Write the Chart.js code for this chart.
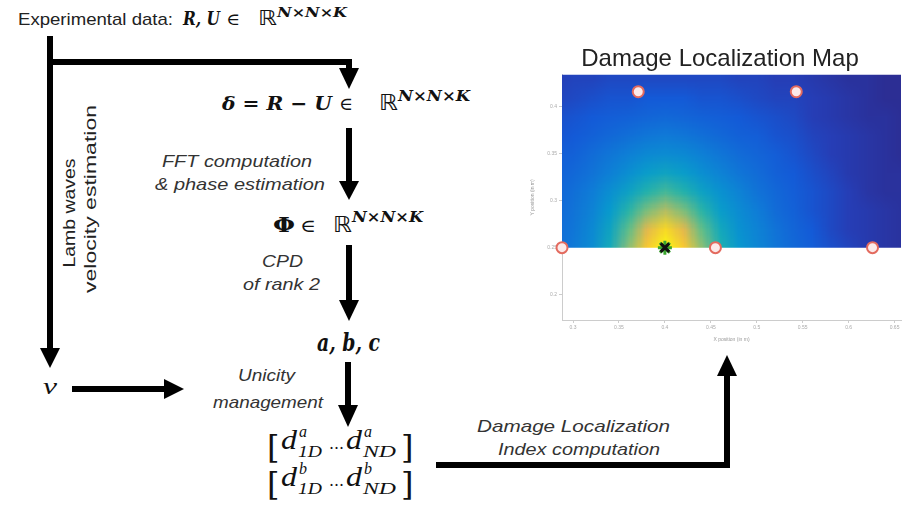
<!DOCTYPE html>
<html>
<head>
<meta charset="utf-8">
<script src="https://cdn.jsdelivr.net/npm/chart.js@4.4.0/dist/chart.umd.min.js"></script>
<style>
body { margin: 0; background: #fff; width: 911px; height: 509px; overflow: hidden; position: relative; }
#flow { position: absolute; left: 0; top: 0; }
#mapbox { position: absolute; left: 530px; top: 40px; width: 381px; height: 303px; }
.lbl { font-family: "Liberation Sans", Arial, sans-serif; font-style: italic; font-size: 17px; fill: #333; }
.plain { font-family: "Liberation Sans", Arial, sans-serif; font-size: 17px; fill: #222; }
.mb { font-family: "DejaVu Serif", serif; font-weight: bold; font-style: italic; fill: #111; }
.mr { font-family: "DejaVu Serif", serif; fill: #111; }
.bb { font-family: "DejaVu Sans", sans-serif; fill: #111; }
.mi { font-family: "Liberation Serif", serif; font-style: italic; fill: #111; }
.sh { stroke: #000; stroke-width: 6; fill: none; }
</style>
</head>
<body>
<svg id="flow" width="911" height="509" xmlns="http://www.w3.org/2000/svg">
  <!-- header -->
  <text class="plain" x="18" y="25" textLength="155" lengthAdjust="spacingAndGlyphs">Experimental data:</text>
  <text class="mb" x="183" y="25" font-size="18" textLength="37" lengthAdjust="spacingAndGlyphs">R, U</text>
  <text class="mr" x="226" y="25" font-size="17" textLength="14" lengthAdjust="spacingAndGlyphs">∈</text>
  <text class="bb" x="258" y="25" font-size="21" textLength="19" lengthAdjust="spacingAndGlyphs">ℝ</text>
  <text class="mb" x="277" y="17" font-size="13" textLength="70" lengthAdjust="spacingAndGlyphs">N×N×K</text>

  <!-- delta -->
  <text class="mb" x="222" y="110" font-size="19" textLength="110" lengthAdjust="spacingAndGlyphs">δ = R − U</text>
  <text class="mr" x="339" y="110" font-size="18" textLength="14" lengthAdjust="spacingAndGlyphs">∈</text>
  <text class="bb" x="379" y="110" font-size="22" textLength="19" lengthAdjust="spacingAndGlyphs">ℝ</text>
  <text class="mb" x="398" y="101" font-size="14" textLength="72" lengthAdjust="spacingAndGlyphs">N×N×K</text>

  <!-- phi -->
  <text class="mr" font-weight="bold" x="273" y="232" font-size="20" textLength="22" lengthAdjust="spacingAndGlyphs">Φ</text>
  <text class="mr" x="300" y="232" font-size="18" textLength="16" lengthAdjust="spacingAndGlyphs">∈</text>
  <text class="bb" x="333" y="232" font-size="22" textLength="19" lengthAdjust="spacingAndGlyphs">ℝ</text>
  <text class="mb" x="352" y="222" font-size="14" textLength="71" lengthAdjust="spacingAndGlyphs">N×N×K</text>

  <text class="mb" x="317" y="351" font-size="24" textLength="63" lengthAdjust="spacingAndGlyphs">a, b, c</text>
  <text class="mi" x="43" y="394" font-size="24" textLength="14" lengthAdjust="spacingAndGlyphs">v</text>

  <!-- matrix rows -->
  <text class="mr" x="267" y="458" font-size="32">[</text>
  <text class="mi" x="281" y="449" font-size="27" textLength="16" lengthAdjust="spacingAndGlyphs">d</text>
  <text class="mi" x="299" y="437" font-size="16">a</text>
  <text class="mi" x="298" y="457" font-size="16" textLength="24" lengthAdjust="spacingAndGlyphs">1D</text>
  <text class="mr" x="329" y="449" font-size="16" textLength="15" lengthAdjust="spacingAndGlyphs">...</text>
  <text class="mi" x="346" y="449" font-size="27" textLength="16" lengthAdjust="spacingAndGlyphs">d</text>
  <text class="mi" x="364" y="437" font-size="16">a</text>
  <text class="mi" x="363" y="457" font-size="16" textLength="33" lengthAdjust="spacingAndGlyphs">ND</text>
  <text class="mr" x="401" y="458" font-size="32">]</text>

  <text class="mr" x="267" y="495" font-size="32">[</text>
  <text class="mi" x="281" y="486" font-size="27" textLength="16" lengthAdjust="spacingAndGlyphs">d</text>
  <text class="mi" x="299" y="474" font-size="16">b</text>
  <text class="mi" x="298" y="494" font-size="16" textLength="24" lengthAdjust="spacingAndGlyphs">1D</text>
  <text class="mr" x="329" y="486" font-size="16" textLength="15" lengthAdjust="spacingAndGlyphs">...</text>
  <text class="mi" x="346" y="486" font-size="27" textLength="16" lengthAdjust="spacingAndGlyphs">d</text>
  <text class="mi" x="364" y="474" font-size="16">b</text>
  <text class="mi" x="363" y="494" font-size="16" textLength="33" lengthAdjust="spacingAndGlyphs">ND</text>
  <text class="mr" x="401" y="495" font-size="32">]</text>

  <!-- italic step labels -->
  <text class="lbl" x="162" y="167" textLength="150" lengthAdjust="spacingAndGlyphs">FFT computation</text>
  <text class="lbl" x="155" y="190" textLength="170" lengthAdjust="spacingAndGlyphs">&amp; phase estimation</text>
  <text class="lbl" x="262" y="267" textLength="41" lengthAdjust="spacingAndGlyphs">CPD</text>
  <text class="lbl" x="243" y="290" textLength="77" lengthAdjust="spacingAndGlyphs">of rank 2</text>
  <text class="lbl" x="238" y="381" textLength="57" lengthAdjust="spacingAndGlyphs">Unicity</text>
  <text class="lbl" x="213" y="408" textLength="110" lengthAdjust="spacingAndGlyphs">management</text>
  <text class="lbl" x="477" y="432" textLength="193" lengthAdjust="spacingAndGlyphs">Damage Localization</text>
  <text class="lbl" x="498" y="455" textLength="162" lengthAdjust="spacingAndGlyphs">Index computation</text>
  <text class="plain" transform="translate(75,213) rotate(-90)" text-anchor="middle" textLength="109" lengthAdjust="spacingAndGlyphs">Lamb waves</text>
  <text class="plain" transform="translate(96,199) rotate(-90)" text-anchor="middle" textLength="188" lengthAdjust="spacingAndGlyphs">velocity estimation</text>

  <!-- arrows -->
  <line class="sh" x1="50" y1="36" x2="50" y2="350"/>
  <polygon points="40,348 60,348 50,368"/>
  <polyline class="sh" points="47,62 349,62 349,70"/>
  <polygon points="339,68 359,68 349,89"/>
  <line class="sh" x1="349" y1="128" x2="349" y2="184"/>
  <polygon points="339,181 359,181 349,200"/>
  <line class="sh" x1="349" y1="245" x2="349" y2="302"/>
  <polygon points="339,300 359,300 349,321"/>
  <line class="sh" x1="348" y1="362" x2="348" y2="407"/>
  <polygon points="338,405 358,405 348,427"/>
  <line class="sh" x1="72" y1="389" x2="166" y2="389"/>
  <polygon points="164,379 164,399 184,389"/>
  <polyline class="sh" points="436,465 727,465 727,374"/>
  <polygon points="717,376 737,376 727,355"/>
</svg>

<div id="mapbox"><canvas id="map-chart"></canvas></div>

<script>
// heatmap grid, rows go from y = 0.25 upwards
var heatX = [0.28, 0.30, 0.32, 0.34, 0.36, 0.38, 0.40, 0.42, 0.44, 0.46, 0.48, 0.50, 0.52, 0.54, 0.56, 0.58, 0.60, 0.62, 0.64, 0.66];
var heatY = [0.25, 0.27, 0.29, 0.31, 0.33, 0.35, 0.37, 0.39, 0.41, 0.43];
var heatZ = [
    [0.15, 0.19, 0.25, 0.37, 0.56, 0.80, 1.00, 0.80, 0.56, 0.40, 0.29, 0.23, 0.18, 0.14, 0.11, 0.08, 0.06, 0.04, 0.03, 0.02],
    [0.15, 0.18, 0.24, 0.34, 0.50, 0.70, 0.86, 0.70, 0.50, 0.36, 0.27, 0.22, 0.17, 0.13, 0.10, 0.07, 0.05, 0.04, 0.03, 0.02],
    [0.14, 0.17, 0.22, 0.30, 0.42, 0.54, 0.62, 0.54, 0.42, 0.31, 0.25, 0.20, 0.15, 0.12, 0.09, 0.07, 0.05, 0.04, 0.03, 0.02],
    [0.13, 0.16, 0.20, 0.26, 0.33, 0.41, 0.46, 0.41, 0.33, 0.27, 0.22, 0.17, 0.14, 0.11, 0.09, 0.07, 0.05, 0.03, 0.02, 0.02],
    [0.12, 0.14, 0.17, 0.21, 0.26, 0.31, 0.34, 0.31, 0.26, 0.22, 0.18, 0.15, 0.12, 0.10, 0.08, 0.06, 0.04, 0.03, 0.02, 0.02],
    [0.11, 0.12, 0.15, 0.18, 0.21, 0.24, 0.25, 0.24, 0.21, 0.18, 0.15, 0.13, 0.11, 0.09, 0.07, 0.05, 0.04, 0.03, 0.02, 0.01],
    [0.09, 0.10, 0.12, 0.14, 0.16, 0.18, 0.19, 0.18, 0.16, 0.14, 0.12, 0.11, 0.09, 0.08, 0.06, 0.05, 0.04, 0.03, 0.02, 0.01],
    [0.08, 0.09, 0.10, 0.11, 0.12, 0.13, 0.14, 0.13, 0.12, 0.11, 0.10, 0.09, 0.08, 0.07, 0.05, 0.04, 0.03, 0.02, 0.02, 0.01],
    [0.06, 0.07, 0.08, 0.09, 0.09, 0.10, 0.10, 0.10, 0.09, 0.09, 0.08, 0.07, 0.06, 0.06, 0.05, 0.04, 0.03, 0.02, 0.01, 0.01],
    [0.05, 0.06, 0.06, 0.07, 0.07, 0.07, 0.07, 0.07, 0.07, 0.07, 0.06, 0.06, 0.05, 0.05, 0.04, 0.03, 0.02, 0.02, 0.01, 0.01]
];

var sensorX = [0.371, 0.543, 0.288, 0.455, 0.626];
var sensorY = [0.416, 0.416, 0.25, 0.25, 0.25];
var damageX = [0.40];
var damageY = [0.25];

var xTicks = [0.3, 0.35, 0.4, 0.45, 0.5, 0.55, 0.6, 0.65];
var yTicks = [0.2, 0.25, 0.3, 0.35, 0.4];

// parula-like colour stops
var cmap = [
    [0.0, [45, 42, 140]], [0.05, [38, 62, 182]], [0.1, [20, 90, 215]], [0.2, [15, 125, 215]],
    [0.3, [8, 155, 205]], [0.4, [28, 176, 176]], [0.5, [95, 190, 138]], [0.6, [168, 190, 104]],
    [0.7, [226, 185, 78]], [0.8, [250, 200, 48]], [0.9, [247, 226, 32]], [1.0, [249, 250, 20]]
];

function colorFor(v) {
    for (var k = 1; k < cmap.length; k++) {
        if (v <= cmap[k][0]) {
            var a = cmap[k - 1], b = cmap[k];
            var t = (v - a[0]) / (b[0] - a[0]);
            return [0, 1, 2].map(function(c) { return Math.round(a[1][c] + t * (b[1][c] - a[1][c])); });
        }
    }
    return cmap[cmap.length - 1][1];
}

var heatmapPlugin = {
    id: 'heatmap',
    beforeDatasetsDraw: function(chart) {
        var xs = chart.scales.x, ys = chart.scales.y, ctx = chart.ctx, area = chart.chartArea;
        var nx = heatX.length, ny = heatY.length;
        var off = document.createElement('canvas');
        off.width = nx;
        off.height = ny;
        var octx = off.getContext('2d');
        var img = octx.createImageData(nx, ny);
        for (var j = 0; j < ny; j++) {
            for (var i = 0; i < nx; i++) {
                var c = colorFor(heatZ[j][i]);
                var p = ((ny - 1 - j) * nx + i) * 4;
                img.data[p] = c[0];
                img.data[p + 1] = c[1];
                img.data[p + 2] = c[2];
                img.data[p + 3] = 255;
            }
        }
        octx.putImageData(img, 0, 0);
        var hx = (heatX[1] - heatX[0]) / 2, hy = (heatY[1] - heatY[0]) / 2;
        var left = xs.getPixelForValue(heatX[0] - hx);
        var right = xs.getPixelForValue(heatX[nx - 1] + hx);
        var top = ys.getPixelForValue(heatY[ny - 1] + hy);
        var bottom = ys.getPixelForValue(heatY[0] - hy);
        var clipBottom = ys.getPixelForValue(heatY[0]);
        ctx.save();
        ctx.beginPath();
        ctx.rect(area.left, area.top, area.right - area.left, clipBottom - area.top);
        ctx.clip();
        ctx.imageSmoothingEnabled = true;
        ctx.drawImage(off, left, top, right - left, bottom - top);
        ctx.restore();
    }
};

Chart.defaults.font.family = '"Liberation Sans", Arial, sans-serif';

new Chart(document.getElementById('map-chart'), {
    type: 'scatter',
    data: {
        datasets: [
            {
                label: 'damage',
                data: damageX.map(function(x, i) { return { x: x, y: damageY[i] }; }),
                pointStyle: 'crossRot',
                pointRadius: 6,
                borderColor: '#111',
                borderWidth: 3,
                clip: false
            },
            {
                label: 'damage area',
                data: damageX.map(function(x, i) { return { x: x, y: damageY[i] }; }),
                pointStyle: 'star',
                pointRadius: 7,
                borderColor: '#3aa52e',
                borderWidth: 3,
                clip: false
            },
            {
                label: 'sensors',
                data: sensorX.map(function(x, i) { return { x: x, y: sensorY[i] }; }),
                pointStyle: 'circle',
                pointRadius: 5.5,
                backgroundColor: '#fbeaea',
                borderColor: '#e36a5e',
                borderWidth: 2,
                clip: false
            }
        ]
    },
    options: {
        responsive: true,
        maintainAspectRatio: false,
        animation: false,
        layout: { padding: { left: 0, right: 1, top: 0, bottom: 0 } },
        scales: {
            x: {
                type: 'linear',
                min: 0.288,
                max: 0.657,
                afterBuildTicks: function(s) { s.ticks = xTicks.map(function(v) { return { value: v }; }); },
                afterFit: function(s) { s.height = 23; },
                ticks: { font: { size: 5 }, color: '#aaa', padding: 2, maxRotation: 0, autoSkip: false,
                    callback: function(v) { return String(v); } },
                grid: { display: true, drawOnChartArea: false, tickLength: 3, color: '#ccc' },
                border: { color: '#ccc' },
                title: { display: true, text: 'X position (in m)', font: { size: 5 }, color: '#999', padding: 0 }
            },
            y: {
                type: 'linear',
                min: 0.173,
                max: 0.434,
                afterBuildTicks: function(s) { s.ticks = yTicks.map(function(v) { return { value: v }; }); },
                afterFit: function(s) { s.width = 32; },
                ticks: { font: { size: 5 }, color: '#aaa', padding: 2, autoSkip: false,
                    callback: function(v) { return String(v); } },
                grid: { display: true, drawOnChartArea: false, tickLength: 3, color: '#ccc' },
                border: { color: '#ccc' },
                title: { display: true, text: 'Y position (in m)', font: { size: 5 }, color: '#999', padding: 0 }
            }
        },
        plugins: {
            legend: { display: false },
            tooltip: { enabled: false },
            title: {
                display: true,
                text: 'Damage Localization Map',
                color: '#222',
                font: { size: 24, weight: 'normal' },
                padding: { top: 5, bottom: 1 }
            }
        }
    },
    plugins: [heatmapPlugin]
});
</script>
</body>
</html>
